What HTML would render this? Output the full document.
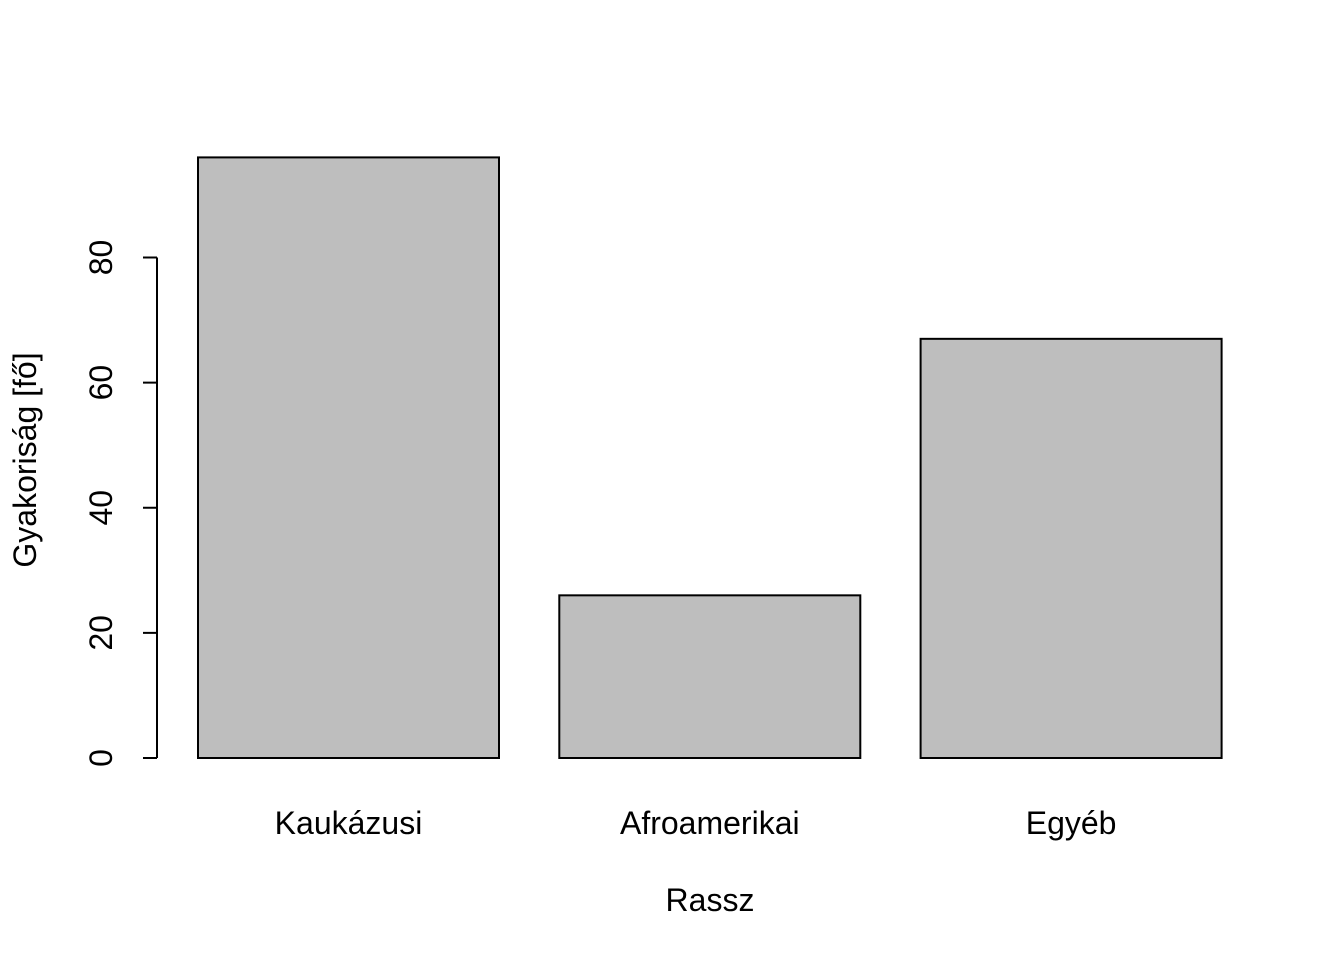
<!DOCTYPE html>
<html><head><meta charset="utf-8"><style>
html,body{margin:0;padding:0;background:#fff;}
svg{display:block;font-family:"Liberation Sans",Arial,sans-serif;}
</style></head><body>
<svg id="chart" width="1344" height="960" xmlns="http://www.w3.org/2000/svg">
<g id="bars"></g>
<g id="yaxis"></g>
<g id="xlabels"></g>
<text x="710" y="911" font-size="32" text-anchor="middle">Rassz</text>
<text transform="translate(36,460) rotate(-90)" font-size="32" text-anchor="middle">Gyakoriság [fő]</text>
</svg>
<script>
const categories = ["Kaukázusi", "Afroamerikai", "Egyéb"];
const values = [96, 26, 67];
const yTicks = [0, 20, 40, 60, 80];
const NS = "http://www.w3.org/2000/svg";
const y0 = 758, pxPerUnit = 500.5 / 80;
function yScale(v){ return y0 - v * pxPerUnit; }
function xLeft(i){ return 198 + i * 361.3; }
const barW = 301;
const bars = document.getElementById("bars");
const xl = document.getElementById("xlabels");
categories.forEach((c, i) => {
  const r = document.createElementNS(NS, "rect");
  r.setAttribute("x", xLeft(i));
  r.setAttribute("y", yScale(values[i]));
  r.setAttribute("width", barW);
  r.setAttribute("height", y0 - yScale(values[i]));
  r.setAttribute("fill", "#bebebe");
  r.setAttribute("stroke", "#000");
  r.setAttribute("stroke-width", "2");
  
  
  bars.appendChild(r);
  const t = document.createElementNS(NS, "text");
  t.setAttribute("x", xLeft(i) + barW / 2);
  t.setAttribute("y", 834);
  t.setAttribute("font-size", "32");
  t.setAttribute("text-anchor", "middle");
  t.textContent = c;
  
  
  xl.appendChild(t);
});
const ya = document.getElementById("yaxis");
const line = document.createElementNS(NS, "line");
line.setAttribute("x1", 157); line.setAttribute("x2", 157);
line.setAttribute("y1", yScale(yTicks[0])); line.setAttribute("y2", yScale(yTicks[yTicks.length - 1]));
line.setAttribute("stroke", "#000"); line.setAttribute("stroke-width", "2");


ya.appendChild(line);
yTicks.forEach(v => {
  const tk = document.createElementNS(NS, "line");
  tk.setAttribute("x1", 143); tk.setAttribute("x2", 157);
  tk.setAttribute("y1", yScale(v)); tk.setAttribute("y2", yScale(v));
  tk.setAttribute("stroke", "#000"); tk.setAttribute("stroke-width", "2");
  
  
  ya.appendChild(tk);
  const t = document.createElementNS(NS, "text");
  t.setAttribute("transform", "translate(112," + yScale(v) + ") rotate(-90)");
  t.setAttribute("font-size", "32");
  t.setAttribute("text-anchor", "middle");
  t.textContent = v;
  
  
  ya.appendChild(t);
});
</script>
</body></html>
